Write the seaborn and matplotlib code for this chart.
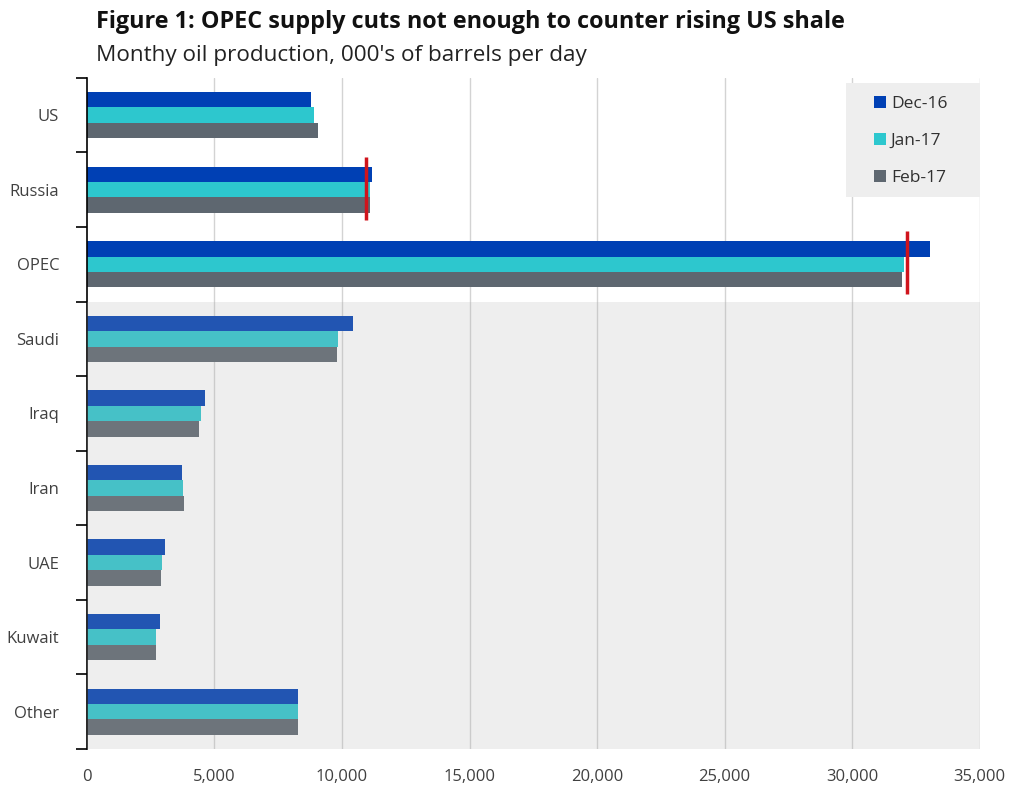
import pandas as pd
import matplotlib.pyplot as plt
import seaborn as sns
from matplotlib.patches import Rectangle
from matplotlib.ticker import FuncFormatter, FixedLocator

# Data (000's barrels per day)
countries = ['US', 'Russia', 'OPEC', 'Saudi', 'Iraq', 'Iran', 'UAE', 'Kuwait', 'Other']
months = ['Dec-16', 'Jan-17', 'Feb-17']
dec16 = [8780, 11190, 33040, 10450, 4640, 3740, 3070, 2860, 8260]
jan17 = [8910, 11100, 32020, 9860, 4480, 3780, 2950, 2720, 8290]
feb17 = [9040, 11100, 31970, 9810, 4400, 3820, 2910, 2710, 8290]

# red target markers
target_names = ['Russia', 'OPEC']
target_values = [10930, 32150]

colors = ['#0040B4', '#2DC7CE', '#5E6770']

df = pd.DataFrame({'Country': countries * 3,
                   'Month': [m for m in months for _ in countries],
                   'Value': dec16 + jan17 + feb17})

sns.set_theme(style="white")
plt.rcParams['font.family'] = ['Open Sans', 'DejaVu Sans']

fig = plt.figure(figsize=(10.11, 7.86), dpi=100)
ax = fig.add_axes([0.086, 0.047, 0.883, 0.854])

sns.barplot(data=df, y='Country', x='Value', hue='Month', order=countries,
            hue_order=months, palette=colors, orient='h', width=0.62,
            saturation=1, linewidth=0, ax=ax, zorder=2)

ax.set_xlim(0, 35000)
ax.set_ylim(8.5, -0.5)

# gridlines
ax.xaxis.set_major_locator(FixedLocator(range(0, 35001, 5000)))
ax.xaxis.set_major_formatter(FuncFormatter(lambda v, p: f"{int(v):,}"))
for v in range(5000, 35001, 5000):
    ax.axvline(v, color='#D3D3D3', lw=1, zorder=1)

# shaded OPEC members area
ax.add_patch(Rectangle((0, 2.5), 35000, 6, facecolor='#ABABAB', alpha=0.2,
                       edgecolor='none', zorder=3))

# red markers
for name, val in zip(target_names, target_values):
    i = countries.index(name)
    ax.vlines(val, i - 0.44, i + 0.4, color='#D0141C', lw=2.5, zorder=4)

for s in ['top', 'right', 'bottom']:
    ax.spines[s].set_visible(False)
ax.spines['left'].set_color('black')
ax.spines['left'].set_linewidth(1.2)

ax.set_yticks([i - 0.5 for i in range(len(countries) + 1)], minor=True)
ax.tick_params(axis='y', which='minor', length=8, width=1.2, color='black', direction='out', left=True)
ax.tick_params(axis='y', which='major', length=0, pad=20, labelsize=12, labelcolor='#404040')
ax.tick_params(axis='x', length=0, pad=14, labelsize=12, labelcolor='#404040')
ax.set_xlabel('')
ax.set_ylabel('')

# legend box
ax.add_patch(Rectangle((0.85, 0.8227), 0.15, 0.17, transform=ax.transAxes,
                       facecolor='#EEEEEE', edgecolor='none', zorder=5))
leg = ax.legend(loc='upper left', bbox_to_anchor=(0.882, 0.9735), frameon=False,
                fontsize=12.5, handlelength=0.7, handleheight=0.7,
                handletextpad=0.25, labelspacing=1.2, borderpad=0,
                borderaxespad=0)
leg.set_zorder(6)
for t in leg.get_texts():
    t.set_color('#303030')

fig.text(0.095, 0.972, 'Figure 1: OPEC supply cuts not enough to counter rising US shale',
         fontsize=16.8, fontweight='bold', color='#111111', va='center')
fig.text(0.095, 0.930, "Monthy oil production, 000's of barrels per day",
         fontsize=16.2, color='#222222', va='center')

fig.savefig('out.png', dpi=100, facecolor='white')
